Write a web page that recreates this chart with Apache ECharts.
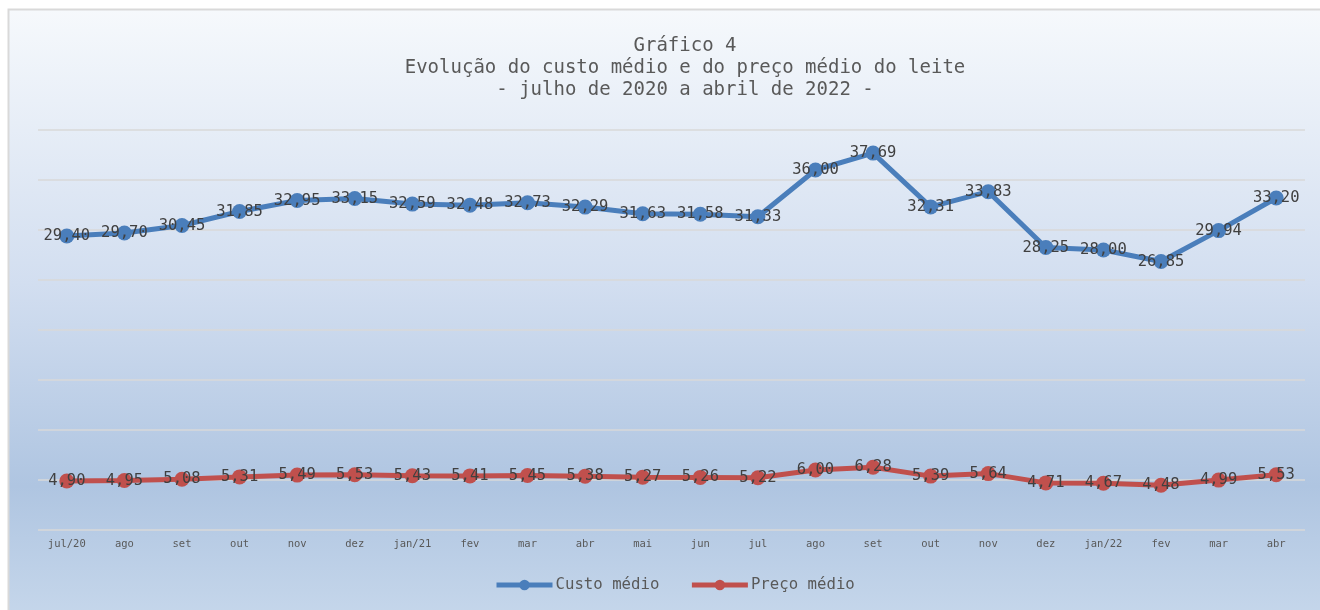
<!DOCTYPE html>
<html>
<head>
<meta charset="utf-8">
<script src="https://cdn.jsdelivr.net/npm/echarts@6/dist/echarts.min.js"></script>
<style>
  html, body { margin: 0; padding: 0; background: #fff; }
  #chart { width: 1320px; height: 610px; }
</style>
</head>
<body>
<div id="chart"></div>
<script>
// meses de julho/2020 a abril/2022
const meses = ['jul/20', 'ago', 'set', 'out', 'nov', 'dez', 'jan/21', 'fev', 'mar', 'abr', 'mai', 'jun',
  'jul', 'ago', 'set', 'out', 'nov', 'dez', 'jan/22', 'fev', 'mar', 'abr'];
const custoMedio = [29.40, 29.70, 30.45, 31.85, 32.95, 33.15, 32.59, 32.48, 32.73, 32.29, 31.63, 31.58,
  31.33, 36.00, 37.69, 32.31, 33.83, 28.25, 28.00, 26.85, 29.94, 33.20];
const precoMedio = [4.90, 4.95, 5.08, 5.31, 5.49, 5.53, 5.43, 5.41, 5.45, 5.38, 5.27, 5.26,
  5.22, 6.00, 6.28, 5.39, 5.64, 4.71, 4.67, 4.48, 4.99, 5.53];

const fonte = '"DejaVu Sans Mono", monospace';
const fmt = p => p.value.toFixed(2).replace('.', ',');

const chart = echarts.init(document.getElementById('chart'));

function linha(nome, dados, cor) {
  return {
    name: nome,
    type: 'line',
    data: dados,
    symbol: 'circle',
    symbolSize: 15,
    lineStyle: { width: 5, color: cor },
    itemStyle: { color: cor },
    label: {
      show: true,
      position: 'inside',
      formatter: fmt,
      fontFamily: fonte,
      fontSize: 15.5,
      color: '#404040'
    },
    emphasis: { disabled: true },
    animation: false
  };
}

const option = {
  backgroundColor: '#fff',
  graphic: [{
    type: 'rect',
    z: -10,
    shape: { x: 8.5, y: 9.5, width: 1320, height: 610 },
    style: {
      fill: new echarts.graphic.LinearGradient(0, 0, 0, 1, [
        { offset: 0, color: '#f6f9fc' },
        { offset: 0.45, color: '#d2def0' },
        { offset: 0.78, color: '#afc5e1' },
        { offset: 1, color: '#c6d7eb' }
      ]),
      stroke: '#d9d9d9',
      lineWidth: 2
    }
  }],
  title: {
    text: 'Gráfico 4\nEvolução do custo médio e do preço médio do leite\n- julho de 2020 a abril de 2022 -',
    left: 680,
    top: 30,
    textAlign: 'center',
    textStyle: {
      fontFamily: fonte,
      fontSize: 19,
      fontWeight: 'normal',
      color: '#595959',
      lineHeight: 22
    }
  },
  legend: {
    top: 572,
    left: 489,
    itemWidth: 56,
    itemHeight: 13,
    itemGap: 30,
    lineStyle: { width: 5 },
    textStyle: { fontFamily: fonte, fontSize: 15.7, color: '#595959', padding: [0, 0, 0, -2] },
    data: ['Custo médio', 'Preço médio']
  },
  grid: { left: 38, right: 15, top: 130, bottom: 80 },
  xAxis: {
    type: 'category',
    data: meses,
    boundaryGap: true,
    axisLine: { show: false },
    axisTick: { show: false },
    axisLabel: { fontFamily: fonte, fontSize: 10.5, color: '#595959', margin: 9, interval: 0 }
  },
  yAxis: {
    type: 'value',
    min: 0,
    max: 40,
    interval: 5,
    axisLabel: { show: false },
    axisLine: { show: false },
    axisTick: { show: false },
    splitLine: { lineStyle: { color: '#d9d9d9', width: 1.5 } }
  },
  series: [
    linha('Custo médio', custoMedio, '#4a7ebb'),
    linha('Preço médio', precoMedio, '#c0504d')
  ]
};

chart.setOption(option);
window.addEventListener('resize', () => chart.resize());
</script>
</body>
</html>
